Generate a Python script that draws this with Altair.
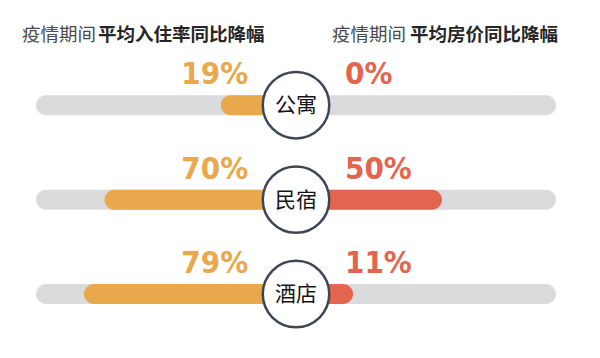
import math
import altair as alt
import pandas as pd

# ---- data ----
categories = ["公寓", "民宿", "酒店"]
occupancy_drop = [19, 70, 79]   # 疫情期间平均入住率同比降幅 (%)
price_drop = [0, 50, 11]        # 疫情期间平均房价同比降幅 (%)
left_title_light = "疫情期间"
left_title_bold = "平均入住率同比降幅"
right_title_light = "疫情期间"
right_title_bold = "平均房价同比降幅"

# ---- layout constants ----
W, H = 584, 342
OFF = 14.0      # units from centre to bar origin (hidden under circle)
FULL = 100      # track length in %
ORANGE = "#E9A84B"
RED = "#E4654F"
GREY = "#DBDADC"
NAVY = "#3D4557"
NUM_FONT = "Liberation Sans Narrow, DejaVu Sans Condensed, Roboto, sans-serif"
CJK = "Noto Sans CJK SC"

df = pd.DataFrame({
    "cat": categories,
    "occ": occupancy_drop,
    "price": price_drop,
    "row": list(range(len(categories))),
})

xs = alt.Scale(domain=[-126.3, 129.8], nice=False, zero=False)
ys = alt.Scale(domain=[-0.977, 2.54], reverse=True, nice=False, zero=False)
Y = alt.Y("row:Q", scale=ys, axis=None)
base = alt.Chart(df)

track = base.transform_calculate(
    a=f"-({OFF}+{FULL})", b=f"{OFF}+{FULL}"
).mark_bar(height=20, cornerRadius=10, color=GREY).encode(
    x=alt.X("a:Q", scale=xs, axis=None), x2="b:Q", y=Y
)

left_bar = base.transform_calculate(
    a=f"-({OFF}+datum.occ)", b="0"
).mark_bar(height=20, cornerRadius=10, color=ORANGE).encode(
    x=alt.X("a:Q", scale=xs, axis=None), x2="b:Q", y=Y
)

right_bar = base.transform_calculate(
    a="0", b=f"{OFF}+datum.price"
).mark_bar(height=20, cornerRadius=10, color=RED).encode(
    x=alt.X("a:Q", scale=xs, axis=None), x2="b:Q", y=Y
)

circle = base.transform_calculate(c="0").mark_circle(
    size=math.pi * 37.5 ** 2, color="white", opacity=1,
    stroke=NAVY, strokeWidth=2.5
).encode(x=alt.X("c:Q", scale=xs, axis=None), y=Y)

cat_text = base.transform_calculate(c="0").mark_text(
    font=CJK, fontSize=21, color="#151515", align="center", baseline="middle", dy=1
).encode(x=alt.X("c:Q", scale=xs, axis=None), y=Y, text="cat:N")

left_num = base.transform_calculate(
    p="-21.0", t="datum.occ + '%'"
).mark_text(
    font=NUM_FONT, fontSize=31, fontWeight="bold", color=ORANGE,
    align="right", baseline="alphabetic", dy=-21
).encode(x=alt.X("p:Q", scale=xs, axis=None), y=Y, text="t:N")

right_num = base.transform_calculate(
    p="21.5", t="datum.price + '%'"
).mark_text(
    font=NUM_FONT, fontSize=31, fontWeight="bold", color=RED,
    align="left", baseline="alphabetic", dy=-21
).encode(x=alt.X("p:Q", scale=xs, axis=None), y=Y, text="t:N")


def title(txt, xpx, bold):
    return alt.Chart(pd.DataFrame({"t": [txt]})).mark_text(
        font=CJK, fontSize=18.5,
        fontWeight="bold" if bold else "normal",
        color="#262626" if bold else "#4a4a4a",
        align="left", baseline="middle"
    ).encode(x=alt.value(xpx), y=alt.value(27), text="t:N")


titles = [
    title(left_title_light, 14, False),
    title(left_title_bold, 90, True),
    title(right_title_light, 324, False),
    title(right_title_bold, 402, True),
]

chart = alt.layer(
    track, left_bar, right_bar, circle, cat_text, left_num, right_num, *titles
).properties(
    width=W, height=H,
    autosize=alt.AutoSizeParams(type="none"),
    padding=0,
    background="white",
).configure_view(stroke=None)

chart.save("out.html", embed_options={"renderer": "svg", "actions": False})
